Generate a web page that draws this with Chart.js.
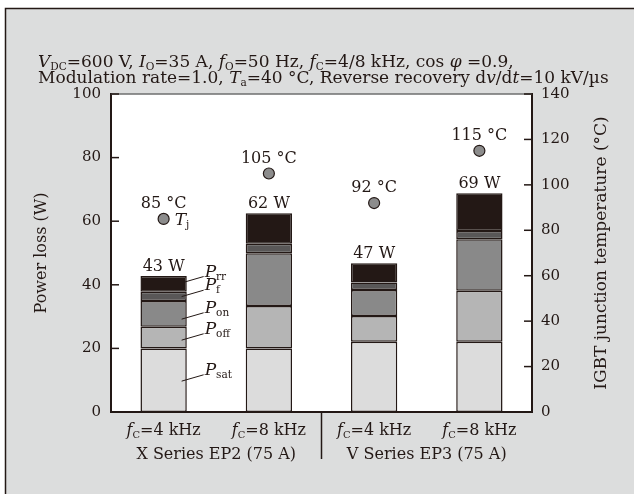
<!DOCTYPE html>
<html>
<head>
<meta charset="utf-8">
<script src="https://cdn.jsdelivr.net/npm/chart.js@4.4.1/dist/chart.umd.min.js"></script>
<style>
  html, body { margin: 0; padding: 0; background: #fff; }
  canvas { display: block; }
</style>
</head>
<body>
<canvas id="c" width="634" height="494"></canvas>
<script>
const categories = ['fc4x', 'fc8x', 'fc4v', 'fc8v'];
const carrierLabels = ['4 kHz', '8 kHz', '4 kHz', '8 kHz'];
const groupLabels = ['X Series EP2 (75 A)', 'V Series EP3 (75 A)'];

// loss components, W (bottom to top)
const pSat = [20.0, 20.0, 22.1, 22.1];
const pOff = [6.8, 13.3, 8.1, 16.0];
const pOn = [8.1, 16.6, 8.2, 16.2];
const pF = [2.9, 3.0, 2.3, 2.6];
const pRr = [5.0, 9.6, 6.1, 11.9];
const totalLoss = [43, 62, 47, 69];

// IGBT junction temperature, °C
const tj = [85, 105, 92, 115];

const lossTicks = [0, 20, 40, 60, 80, 100];
const tempTicks = [0, 20, 40, 60, 80, 100, 120, 140];

const INK = '#231815';
const SERIF = '"DejaVu Serif", serif';

function font(size, italic) {
  return (italic ? 'italic ' : '') + size + 'px ' + SERIF;
}

// parts: [text, style] style: '' normal, 'i' italic, 's' subscript
function richWidth(ctx, parts, size) {
  let w = 0;
  parts.forEach(([t, st]) => {
    ctx.font = st === 's' ? font(size * 0.62) : font(size, st === 'i');
    w += ctx.measureText(t).width;
  });
  return w;
}

function drawRich(ctx, x, y, parts, size, align) {
  if (align === 'center') x -= richWidth(ctx, parts, size) / 2;
  ctx.textAlign = 'left';
  ctx.textBaseline = 'alphabetic';
  parts.forEach(([t, st]) => {
    ctx.font = st === 's' ? font(size * 0.62) : font(size, st === 'i');
    ctx.fillText(t, x, st === 's' ? y + size * 0.18 : y);
    x += ctx.measureText(t).width;
  });
}

const decor = {
  id: 'decor',
  beforeDraw(chart) {
    const { ctx, chartArea: a } = chart;
    ctx.save();
    ctx.fillStyle = '#fff';
    ctx.fillRect(0, 0, chart.width, chart.height);
    ctx.fillStyle = '#dcdddd';
    ctx.fillRect(5, 8, chart.width - 5, chart.height - 8);
    ctx.strokeStyle = INK;
    ctx.lineWidth = 1.5;
    ctx.beginPath();
    ctx.moveTo(5.5, chart.height);
    ctx.lineTo(5.5, 8.5);
    ctx.lineTo(chart.width, 8.5);
    ctx.stroke();
    ctx.fillStyle = '#fff';
    ctx.fillRect(a.left, a.top, a.right - a.left, a.bottom - a.top);
    ctx.restore();
  },
  afterDraw(chart) {
    const { ctx, chartArea: a, scales } = chart;
    const x = scales.x, y = scales.y, y2 = scales.y2;
    ctx.save();

    // top frame line
    ctx.strokeStyle = '#6e6e6e';
    ctx.lineWidth = 1.5;
    ctx.beginPath();
    ctx.moveTo(a.left, a.top);
    ctx.lineTo(a.right, a.top);
    ctx.stroke();

    // inward ticks
    ctx.strokeStyle = INK;
    ctx.lineWidth = 1.5;
    lossTicks.forEach(v => {
      const py = y.getPixelForValue(v);
      ctx.beginPath(); ctx.moveTo(a.left, py); ctx.lineTo(a.left + 8, py); ctx.stroke();
    });
    tempTicks.forEach(v => {
      const py = y2.getPixelForValue(v);
      ctx.beginPath(); ctx.moveTo(a.right - 8, py); ctx.lineTo(a.right, py); ctx.stroke();
    });

    // group divider
    const xd = (x.getPixelForValue(1) + x.getPixelForValue(2)) / 2;
    ctx.lineWidth = 1.5;
    ctx.beginPath(); ctx.moveTo(xd, a.bottom); ctx.lineTo(xd, a.bottom + 47); ctx.stroke();

    ctx.fillStyle = INK;
    // category labels
    carrierLabels.forEach((lab, i) => {
      drawRich(ctx, x.getPixelForValue(i), a.bottom + 23,
        [['f', 'i'], ['C', 's'], ['=' + lab, '']], 16, 'center');
    });
    groupLabels.forEach((lab, g) => {
      const cx = (x.getPixelForValue(g * 2) + x.getPixelForValue(g * 2 + 1)) / 2;
      drawRich(ctx, cx, a.bottom + 47, [[lab, '']], 16, 'center');
    });

    // totals above bars
    categories.forEach((c, i) => {
      const top = pSat[i] + pOff[i] + pOn[i] + pF[i] + pRr[i];
      drawRich(ctx, x.getPixelForValue(i), y.getPixelForValue(top) - 5,
        [[totalLoss[i] + ' W', '']], 16, 'center');
      drawRich(ctx, x.getPixelForValue(i), y2.getPixelForValue(tj[i]) - 11,
        [[tj[i] + ' °C', '']], 16, 'center');
    });

    // Tj note
    const px0 = x.getPixelForValue(0), py0 = y2.getPixelForValue(tj[0]);
    drawRich(ctx, px0 + 11, py0 + 6, [['T', 'i'], ['j', 's']], 17, 'left');

    // component leaders on the first bar
    const comps = [['rr', 40.6], ['f', 36.3], ['on', 29.2], ['off', 22.6], ['sat', 9.7]];
    comps.forEach(([sub, v]) => {
      const sy = y.getPixelForValue(v), ey = y.getPixelForValue(v + 2);
      ctx.strokeStyle = INK;
      ctx.lineWidth = 1;
      ctx.beginPath(); ctx.moveTo(px0 + 18, sy); ctx.lineTo(px0 + 40, ey); ctx.stroke();
      drawRich(ctx, px0 + 41, ey, [['P', 'i'], [sub, 's']], 17, 'left');
    });

    // title
    drawRich(ctx, 38, 67, [
      ['V', 'i'], ['DC', 's'], ['=600 V, ', ''], ['I', 'i'], ['O', 's'], ['=35 A, ', ''],
      ['f', 'i'], ['O', 's'], ['=50 Hz, ', ''], ['f', 'i'], ['C', 's'], ['=4/8 kHz, cos ', ''],
      ['φ', 'i'], [' =0.9,', '']
    ], 17, 'left');
    drawRich(ctx, 38, 83, [
      ['Modulation rate=1.0, ', ''], ['T', 'i'], ['a', 's'], ['=40 °C, Reverse recovery d', ''],
      ['v', 'i'], ['/d', ''], ['t', 'i'], ['=10 kV/µs', '']
    ], 17, 'left');

    // axis titles
    ctx.textAlign = 'center';
    ctx.textBaseline = 'middle';
    const my = (a.top + a.bottom) / 2;
    ctx.font = font(16);
    ctx.save(); ctx.translate(42, my); ctx.rotate(-Math.PI / 2);
    ctx.fillText('Power loss (W)', 0, 0); ctx.restore();
    ctx.font = font(17);
    ctx.save(); ctx.translate(602, my); ctx.rotate(-Math.PI / 2);
    ctx.fillText('IGBT junction temperature (°C)', 0, 0); ctx.restore();

    ctx.restore();
  }
};

const barStyle = (color) => ({
  backgroundColor: color,
  borderColor: INK,
  borderWidth: 1.5,
  borderSkipped: false,
  barPercentage: 0.44,
  categoryPercentage: 1,
  order: 1
});

new Chart(document.getElementById('c').getContext('2d'), {
  type: 'bar',
  data: {
    labels: categories,
    datasets: [
      Object.assign({ label: 'Psat', data: pSat }, barStyle('#dcdcdc')),
      Object.assign({ label: 'Poff', data: pOff }, barStyle('#b5b5b5')),
      Object.assign({ label: 'Pon', data: pOn }, barStyle('#898989')),
      Object.assign({ label: 'Pf', data: pF }, barStyle('#595757')),
      Object.assign({ label: 'Prr', data: pRr }, barStyle(INK)),
      {
        type: 'line',
        label: 'Tj',
        data: tj,
        yAxisID: 'y2',
        showLine: false,
        pointRadius: 5.5,
        pointBackgroundColor: '#8c8c8c',
        pointBorderColor: INK,
        pointBorderWidth: 1.2,
        order: 0
      }
    ]
  },
  options: {
    responsive: false,
    animation: false,
    devicePixelRatio: 1,
    layout: { padding: { left: 0, right: 0, top: 94, bottom: 0 } },
    plugins: { legend: { display: false }, tooltip: { enabled: false } },
    scales: {
      x: {
        stacked: true,
        grid: { display: false, drawTicks: false },
        border: { display: true, color: INK, width: 2 },
        ticks: { display: false },
        afterFit(s) { s.height = 82; }
      },
      y: {
        stacked: true,
        min: 0, max: 100,
        grid: { display: false, drawTicks: false },
        border: { display: true, color: INK, width: 2 },
        ticks: { stepSize: 20, padding: 10, color: INK, font: { family: SERIF, size: 15 } },
        afterFit(s) { s.width = 111; }
      },
      y2: {
        position: 'right',
        min: 0, max: 140,
        grid: { display: false, drawTicks: false },
        border: { display: true, color: INK, width: 2 },
        ticks: { stepSize: 20, padding: 9, color: INK, font: { family: SERIF, size: 15 } },
        afterFit(s) { s.width = 102; }
      }
    }
  },
  plugins: [decor]
});
</script>
</body>
</html>
